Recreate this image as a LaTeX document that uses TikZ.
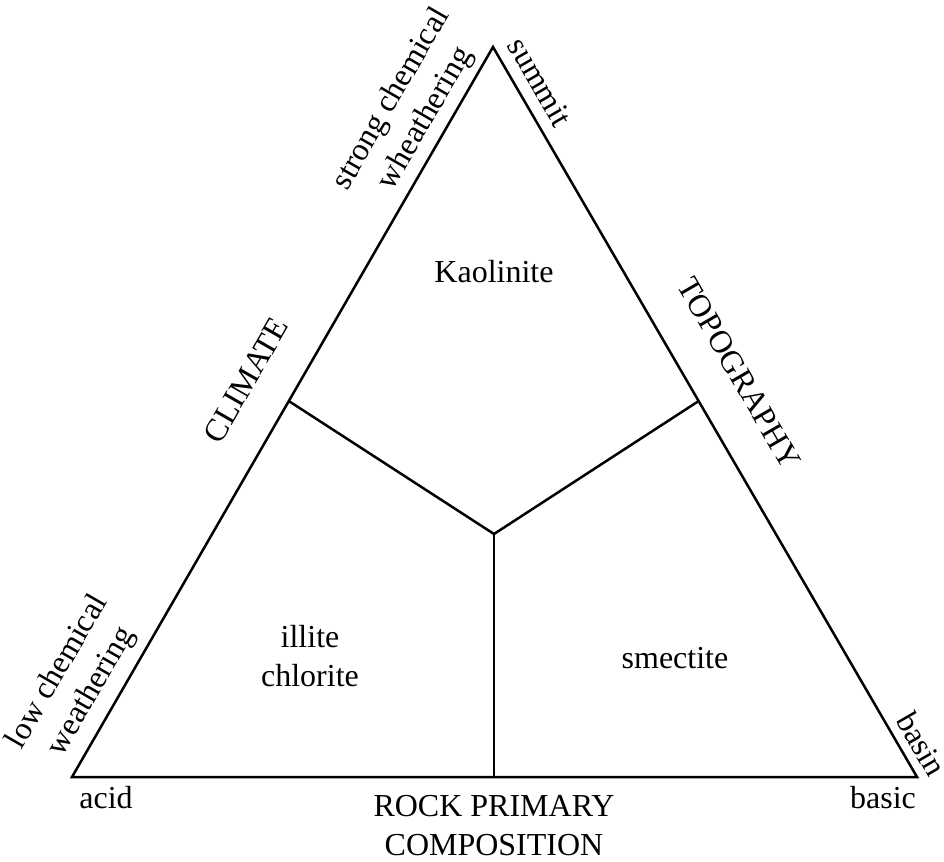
\documentclass[tikz,border=0pt]{standalone}
\usepackage{fontspec}
\setmainfont{Liberation Serif}
\usetikzlibrary{calc}

\begin{document}
\begin{tikzpicture}[x=0.5pt,y=-0.5pt,line width=1.25pt,inner sep=0pt,
	lbl/.style={font=\fontsize{16}{19.5}\selectfont,align=center},
	up/.style={lbl,rotate=60},
	down/.style={lbl,rotate=-60}]
	\useasboundingbox (0,0) rectangle (944,862);
	\coordinate (top) at (493,47);
	\coordinate (acidc) at (72,777);
	\coordinate (basicc) at (917,777);
	\coordinate (mid) at (494,534);
	\coordinate (climc) at ($(acidc)!0.515!(top)$);
	\coordinate (topoc) at ($(basicc)!0.515!(top)$);
	\coordinate (rockc) at (mid |- acidc);
	\draw[line join=miter] (acidc) -- (top) -- (basicc) -- cycle;
	\draw (climc) -- (mid) -- (topoc);
	\draw (mid) -- (rockc);
	\node[lbl,anchor=base] (kaol) at (494,282) {Kaolinite};
	\node[lbl] (illite) at (310,656) {illite\\chlorite};
	\node[lbl,anchor=base] (smec) at (675,668) {smectite};
	\node[lbl,anchor=base] (acid) at (106,808) {acid};
	\node[lbl,anchor=base] (basic) at (883,808) {basic};
	\node[lbl] (rock) at (494,826) {ROCK PRIMARY\\COMPOSITION};
	\node[up] (climate) at (246,380) {CLIMATE};
	\node[down] (topo) at (739,373) {TOPOGRAPHY};
	\node[up] (strong) at (409,109) {strong chemical\\wheathering};
	\node[up] (low) at (75,682) {low chemical\\weathering};
	\node[down] (summit) at (540,82) {summit};
	\node[down] (basin) at (922,744) {basin};
\end{tikzpicture}
\end{document}
